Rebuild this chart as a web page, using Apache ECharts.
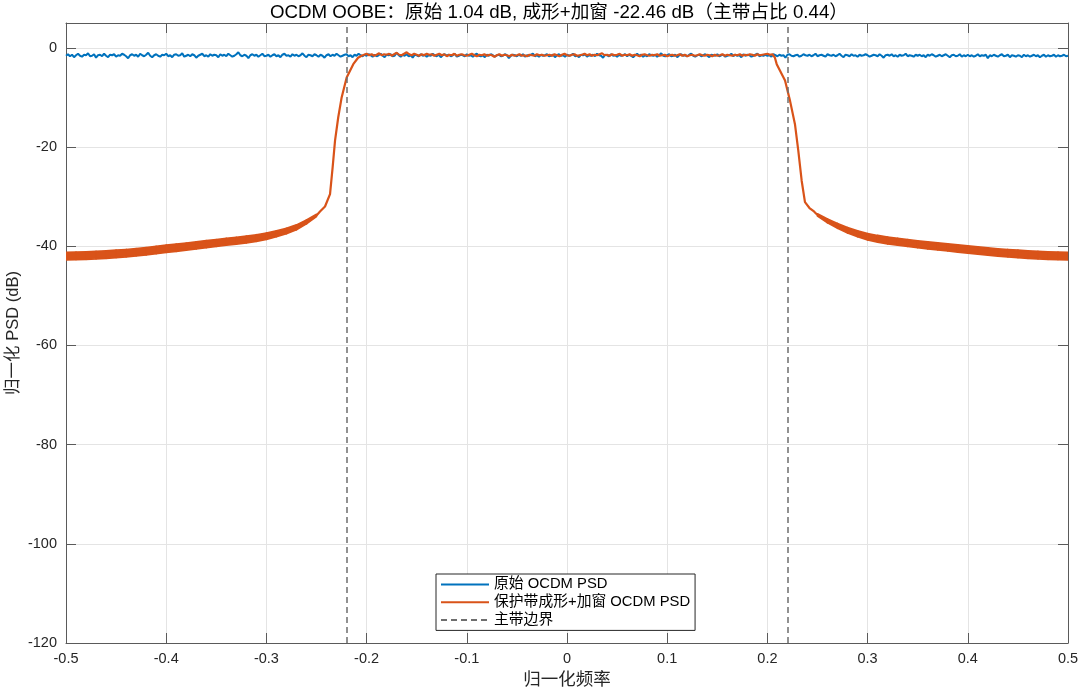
<!DOCTYPE html>
<html>
<head>
<meta charset="utf-8">
<script src="https://cdn.jsdelivr.net/npm/echarts@6/dist/echarts.min.js"></script>
<style>
html,body{margin:0;padding:0;background:#fff;}
#chart{width:1080px;height:689px;}
</style>
</head>
<body>
<div id="chart"></div>
<script>
// ---------- DATA ----------
const titleText = 'OCDM OOBE：原始 1.04 dB, 成形+加窗 -22.46 dB（主带占比 0.44）';
const seriesNames = ['原始 OCDM PSD', '保护带成形+加窗 OCDM PSD', '主带边界'];
const xTicks = [-0.5, -0.4, -0.3, -0.2, -0.1, 0, 0.1, 0.2, 0.3, 0.4, 0.5];
const yTicks = [-120, -100, -80, -60, -40, -20, 0];

// Original OCDM PSD (dB), frequency -0.5 .. 0.5, step 0.002
const blueStart = -0.5, blueStep = 0.002;
const blueDb = [
-1.6,-1.3,-1.7,-1.4,-1.9,-1.5,-1.2,-1.6,-1.8,-1.4,-1.5,-1.1,-1.7,-1.6,-1.3,-2.0,-1.5,-1.4,-1.7,-1.2,-1.6,-1.9,-1.4,-1.5,-1.3,
-1.8,-1.5,-1.6,-1.2,-1.4,-1.7,-2.1,-1.5,-1.3,-1.6,-1.4,-1.8,-1.2,-1.5,-1.7,-1.4,-1.0,-1.6,-1.9,-1.5,-1.3,-1.6,-1.8,-1.4,-1.5,
-1.2,-1.7,-1.5,-1.9,-1.4,-1.3,-1.6,-1.5,-1.1,-1.8,-1.6,-1.4,-1.7,-1.3,-1.5,-2.0,-1.6,-1.4,-1.2,-1.7,-1.5,-1.8,-1.3,-1.6,-1.4,
-1.5,-1.9,-1.3,-1.6,-1.4,-1.7,-1.2,-1.5,-1.8,-1.6,-1.3,-0.9,-1.5,-1.7,-1.4,-1.6,-2.1,-1.5,-1.3,-1.6,-1.4,-1.8,-1.5,-1.2,-1.7,
-1.6,-1.4,-1.8,-1.5,-1.3,-1.7,-1.5,-1.9,-1.4,-1.2,-1.6,-1.5,-1.8,-1.3,-1.6,-1.4,-1.7,-1.5,-1.1,-1.6,-1.9,-1.4,-1.5,-1.7,-1.3,
-1.5,-1.8,-1.4,-1.6,-2.0,-1.5,-1.3,-1.7,-1.4,-1.6,-1.2,-1.5,-1.8,-1.6,-1.4,-1.3,-1.7,-1.5,-1.9,-1.4,-1.6,-1.2,-1.5,-1.7,-1.4,
-1.6,-1.3,-1.5,-1.8,-1.4,-1.7,-1.5,-1.2,-1.6,-1.9,-1.4,-1.5,-1.3,-1.7,-1.6,-1.0,-1.5,-1.8,-1.4,-1.6,-1.3,-1.7,-1.5,-2.0,-1.4,
-1.5,-1.7,-1.3,-1.6,-1.4,-1.8,-1.5,-1.6,-1.2,-1.5,-1.7,-1.4,-1.9,-1.5,-1.3,-1.6,-1.4,-1.7,-1.5,-1.2,-1.8,-1.6,-1.4,-1.5,-1.7,
-1.3,-1.6,-1.5,-1.8,-1.4,-1.2,-1.6,-1.7,-1.5,-1.9,-1.4,-1.6,-1.3,-1.5,-1.8,-1.5,-1.4,-1.7,-1.6,-1.3,-1.5,-2.1,-1.6,-1.4,-1.5,
-1.7,-1.4,-1.6,-1.3,-1.8,-1.5,-1.6,-1.4,-1.2,-1.7,-1.5,-1.8,-1.4,-1.6,-1.5,-1.3,-1.7,-1.6,-1.4,-1.9,-1.5,-1.3,-1.6,-1.5,-1.8,
-1.4,-1.6,-1.5,-1.2,-1.7,-1.6,-1.9,-1.4,-1.5,-1.3,-1.8,-1.5,-1.6,-1.4,-1.7,-1.2,-1.5,-1.6,-2.0,-1.4,-1.5,-1.7,-1.3,-1.6,-1.5,
-1.8,-1.4,-1.6,-1.5,-1.3,-1.7,-1.4,-1.6,-1.9,-1.5,-1.2,-1.6,-1.4,-1.8,-1.5,-1.7,-1.3,-1.5,-1.6,-1.4,-1.8,-1.5,-1.1,-1.6,-1.7,
-1.5,-1.3,-1.7,-1.6,-1.4,-1.9,-1.5,-1.3,-1.6,-1.5,-1.7,-1.4,-1.2,-1.6,-1.8,-1.5,-1.4,-1.7,-1.5,-1.3,-1.6,-1.9,-1.4,-1.5,-1.6,
-1.3,-1.7,-1.5,-1.4,-1.8,-1.6,-1.5,-1.2,-1.7,-1.4,-1.6,-1.5,-1.9,-1.3,-1.6,-1.4,-1.5,-1.8,-1.6,-1.4,-1.2,-1.7,-1.5,-1.6,-1.4,
-1.6,-1.5,-1.8,-1.3,-1.5,-1.7,-1.4,-1.6,-1.5,-2.0,-1.4,-1.3,-1.6,-1.7,-1.5,-1.4,-1.8,-1.6,-1.3,-1.5,-1.6,-1.4,-1.7,-1.5,-1.2,
-1.7,-1.5,-1.4,-1.6,-1.8,-1.3,-1.5,-1.6,-1.4,-1.7,-1.5,-1.2,-1.6,-1.9,-1.4,-1.5,-1.7,-1.3,-1.6,-1.5,-1.8,-1.4,-1.6,-1.5,-1.3,
-1.5,-1.8,-1.6,-1.4,-1.5,-1.7,-1.3,-1.6,-2.0,-1.5,-1.4,-1.6,-1.3,-1.7,-1.5,-1.8,-1.4,-1.6,-1.5,-1.2,-1.7,-1.5,-1.6,-1.8,-1.4,
-1.6,-1.4,-1.7,-1.5,-1.9,-1.4,-1.6,-1.3,-1.5,-1.8,-1.6,-1.4,-1.7,-1.5,-1.3,-1.6,-1.9,-1.5,-1.4,-1.7,-1.6,-1.3,-1.8,-1.5,-1.7,
-1.4,-1.7,-1.5,-1.8,-1.6,-1.3,-1.7,-1.5,-1.6,-1.4,-2.1,-1.5,-1.7,-1.4,-1.6,-1.8,-1.5,-1.3,-1.7,-1.6,-1.4,-1.9,-1.5,-1.6,-1.8,
-1.5,-1.6,-1.9,-1.4,-1.7,-1.5,-1.8,-1.6,-1.4,-1.7,-1.5,-1.9,-1.6,-1.4,-1.8,-1.5,-1.7,-1.6,-1.4,-1.8,-1.5,-1.7,-1.6,-1.4,-1.7,
-1.6
];

// Shaped + windowed PSD: main-band flat part, frequency -0.205 .. 0.205, step 0.0025
const flatStart = -0.205, flatStep = 0.0025;
const orangeFlatDb = [
-1.6,-1.4,-1.2,-1.5,-1.3,-1.6,-1.4,-1.1,-1.5,-1.3,-1.4,-1.2,-1.6,-1.3,-1.0,-1.4,-1.5,-1.2,-0.9,-1.3,-1.5,-1.2,-1.4,-1.6,-1.3,
-1.5,-1.2,-1.4,-1.3,-1.6,-1.4,-1.2,-1.5,-1.3,-1.7,-1.4,-1.5,-1.2,-1.6,-1.4,-1.3,-1.5,-1.6,-1.4,-1.2,-1.5,-1.7,-1.4,-1.5,-1.3,
-1.6,-1.4,-1.5,-1.8,-1.5,-1.3,-1.6,-1.4,-1.5,-1.7,-1.4,-1.6,-1.5,-1.3,-1.6,-1.5,-1.7,-1.4,-1.5,-1.6,-1.3,-1.5,-1.4,-1.6,-1.5,
-1.4,-1.6,-1.3,-1.5,-1.7,-1.4,-1.2,-1.5,-1.6,-1.4,-1.3,-1.6,-1.5,-1.4,-1.2,-1.5,-1.3,-1.6,-1.4,-1.5,-1.3,-1.1,-1.5,-1.4,-1.6,
-1.3,-1.5,-1.4,-1.2,-1.6,-1.4,-1.5,-1.3,-1.6,-1.4,-1.5,-1.7,-1.4,-1.3,-1.5,-1.6,-1.4,-1.5,-1.3,-1.6,-1.5,-1.4,-1.7,-1.5,-1.4,
-1.6,-1.5,-1.3,-1.6,-1.4,-1.7,-1.5,-1.4,-1.6,-1.5,-1.3,-1.5,-1.6,-1.4,-1.5,-1.7,-1.4,-1.6,-1.5,-1.3,-1.6,-1.4,-1.5,-1.6,-1.4,
-1.5,-1.3,-1.6,-1.4,-1.5,-1.3,-1.4,-1.6,-1.3,-1.5,-1.4,-1.3,-1.2,-1.4,-1.3
];

// Roll-off edges
const rollLeftF  = [-0.2500,-0.2465,-0.2415,-0.2365,-0.2339,-0.2315,-0.2283,-0.2249,-0.2199,-0.2133,-0.2085];
const rollLeftDb = [-33.8, -33.0, -32.0, -29.5, -24.1, -18.7, -14.0, -10.0, -6.0, -3.3, -2.0];
const rollRightF  = [0.2075, 0.2093, 0.2176, 0.2226, 0.2275, 0.2308, 0.2342, 0.2375, 0.2420, 0.2465, 0.2500];
const rollRightDb = [-2.0, -3.3, -6.6, -10.7, -15.4, -20.7, -26.8, -31.1, -32.3, -33.0, -33.7];

// Out-of-band tails: centre level and spread (dB), frequency step 0.01
const tailLeftF  = [-0.50,-0.49,-0.48,-0.47,-0.46,-0.45,-0.44,-0.43,-0.42,-0.41,-0.40,-0.39,-0.38,
                    -0.37,-0.36,-0.35,-0.34,-0.33,-0.32,-0.31,-0.30,-0.29,-0.28,-0.27,-0.26,-0.25];
const tailLeftDb = [-42.0,-41.95,-41.9,-41.8,-41.7,-41.55,-41.4,-41.2,-41.0,-40.75,-40.5,-40.3,-40.1,
                    -39.85,-39.6,-39.35,-39.1,-38.9,-38.65,-38.35,-38.0,-37.5,-36.95,-36.2,-35.1,-33.8];
const tailLeftSpread = [1.5,1.5,1.5,1.5,1.5,1.5,1.5,1.5,1.5,1.5,1.5,1.5,1.45,
                        1.45,1.45,1.4,1.4,1.4,1.4,1.35,1.3,1.2,1.1,1.0,0.8,0.5];
const tailRightF  = [0.25,0.26,0.27,0.28,0.29,0.30,0.31,0.32,0.33,0.34,0.35,0.36,0.37,
                     0.38,0.39,0.40,0.41,0.42,0.43,0.44,0.45,0.46,0.47,0.48,0.49,0.50];
const tailRightDb = [-33.7,-34.9,-35.9,-36.8,-37.5,-38.1,-38.5,-38.85,-39.1,-39.35,-39.6,-39.85,-40.05,
                     -40.25,-40.45,-40.65,-40.85,-41.05,-41.25,-41.4,-41.55,-41.7,-41.8,-41.9,-41.95,-42.0];
const tailRightSpread = [0.5,0.8,1.0,1.1,1.2,1.3,1.35,1.4,1.4,1.4,1.4,1.45,1.45,
                         1.45,1.5,1.5,1.5,1.5,1.5,1.5,1.5,1.5,1.5,1.5,1.5,1.5];

// Main band boundaries
const boundaries = [-0.22, 0.22];

// ---------- BUILD ----------
const BLUE = '#0072BD', ORANGE = '#D95319', DASH = '#6e6e6e', TXT = '#262626', AXC = '#5a5a5a';
const FONT = '"Liberation Sans", Arial, "Noto Sans CJK SC", sans-serif';

const blueData = blueDb.map((v, i) => [+(blueStart + i * blueStep).toFixed(4), v]);
const orangeData = []
  .concat(rollLeftF.map((f, i) => [f, rollLeftDb[i]]))
  .concat(orangeFlatDb.map((v, i) => [+(flatStart + i * flatStep).toFixed(4), v]))
  .concat(rollRightF.map((f, i) => [f, rollRightDb[i]]));

function bandSeries(fs, db, sp, key) {
  const data = fs.map((f, i) => [f, db[i] - sp[i] / 2, db[i] + sp[i] / 2]);
  return {
    name: 'tail' + key, type: 'custom', z: 3, silent: true, clip: true,
    data: data,
    encode: { x: 0, y: [1, 2] },
    renderItem: function (params, api) {
      const i = params.dataIndex;
      if (i >= data.length - 1) return null;
      const a = data[i], b = data[i + 1];
      const pts = [
        api.coord([a[0], a[1]]), api.coord([b[0], b[1]]),
        api.coord([b[0], b[2]]), api.coord([a[0], a[2]])
      ];
      return {
        type: 'polygon',
        shape: { points: pts },
        style: { fill: ORANGE, stroke: ORANGE, lineWidth: 1.6, lineJoin: 'round' }
      };
    }
  };
}

const chart = echarts.init(document.getElementById('chart'), null, { renderer: 'canvas' });
const axisBase = { type: 'value', min: -0.5, max: 0.5, interval: 0.1 };
const option = {
  animation: false,
  backgroundColor: '#ffffff',
  textStyle: { fontFamily: FONT },
  title: {
    text: titleText, left: 554, top: -1, textAlign: 'center',
    textStyle: { fontFamily: FONT, fontSize: 18.7, fontWeight: 'normal', color: '#000' }
  },
  grid: { left: 66, right: 12, top: 23, bottom: 46, containLabel: false, outerBoundsMode: 'none', show: false },
  legend: {
    data: seriesNames, orient: 'vertical', left: 436, top: 574,
    padding: [3, 5, 3, 4], itemGap: 3, itemWidth: 48, itemHeight: 14,
    backgroundColor: '#fff', borderColor: TXT, borderWidth: 1, borderRadius: 0,
    itemStyle: { opacity: 0 },
    textStyle: { fontFamily: FONT, fontSize: 14.8, color: '#000' },
    selectedMode: false
  },
  xAxis: [
    Object.assign({}, axisBase, {
      position: 'bottom',
      name: '归一化频率', nameLocation: 'middle', nameGap: 26,
      nameTextStyle: { fontFamily: FONT, fontSize: 17.5, color: TXT },
      axisLine: { show: true, onZero: false, lineStyle: { color: AXC, width: 1 } },
      axisTick: { show: true, inside: true, length: 10, lineStyle: { color: AXC } },
      axisLabel: { fontFamily: FONT, fontSize: 14.5, color: TXT, margin: 9,
        formatter: v => String(+v.toFixed(1)) },
      splitLine: { show: true, lineStyle: { color: '#e4e4e4', width: 1 } }
    }),
    Object.assign({}, axisBase, {
      position: 'top',
      axisLine: { show: true, onZero: false, lineStyle: { color: AXC, width: 1 } },
      axisTick: { show: true, inside: true, length: 10, lineStyle: { color: AXC } },
      axisLabel: { show: false }, splitLine: { show: false }
    })
  ],
  yAxis: [
    {
      type: 'value', min: -120, max: 5, interval: 20, position: 'left',
      name: '归一化 PSD (dB)', nameLocation: 'middle', nameGap: 44, nameRotate: 90,
      nameMoveOverlap: false,
      nameTextStyle: { fontFamily: FONT, fontSize: 16.5, color: TXT },
      axisLine: { show: true, onZero: false, lineStyle: { color: AXC, width: 1 } },
      axisTick: { show: true, inside: true, length: 10, lineStyle: { color: AXC } },
      axisLabel: { fontFamily: FONT, fontSize: 14.5, color: TXT, margin: 9,
        formatter: v => (yTicks.indexOf(Math.round(v)) >= 0 && Math.abs(v - Math.round(v)) < 1e-6) ? String(Math.round(v)) : '' },
      splitLine: { show: true, lineStyle: { color: '#e4e4e4', width: 1 } }
    },
    {
      type: 'value', min: -120, max: 5, interval: 20, position: 'right',
      axisLine: { show: true, onZero: false, lineStyle: { color: AXC, width: 1 } },
      axisTick: { show: true, inside: true, length: 10, lineStyle: { color: AXC } },
      axisLabel: { show: false }, splitLine: { show: false }
    }
  ],
  series: [
    { name: seriesNames[0], type: 'line', data: blueData, symbol: 'none', z: 2,
      lineStyle: { color: BLUE, width: 2 }, itemStyle: { color: BLUE } },
    { name: seriesNames[1], type: 'line', data: orangeData, symbol: 'none', z: 3,
      lineStyle: { color: ORANGE, width: 2.2 }, itemStyle: { color: ORANGE } },
    bandSeries(tailLeftF, tailLeftDb, tailLeftSpread, 'L'),
    bandSeries(tailRightF, tailRightDb, tailRightSpread, 'R'),
    { name: seriesNames[2], type: 'line', data: [], symbol: 'none', z: 5,
      lineStyle: { color: DASH, width: 1.5, type: [6, 4] }, itemStyle: { color: DASH },
      markLine: {
        silent: true, symbol: ['none', 'none'], label: { show: false },
        lineStyle: { color: DASH, width: 1.5, type: [6, 4] },
        data: boundaries.map(b => ({ xAxis: b }))
      }
    }
  ]
};
chart.setOption(option);
</script>
</body>
</html>
